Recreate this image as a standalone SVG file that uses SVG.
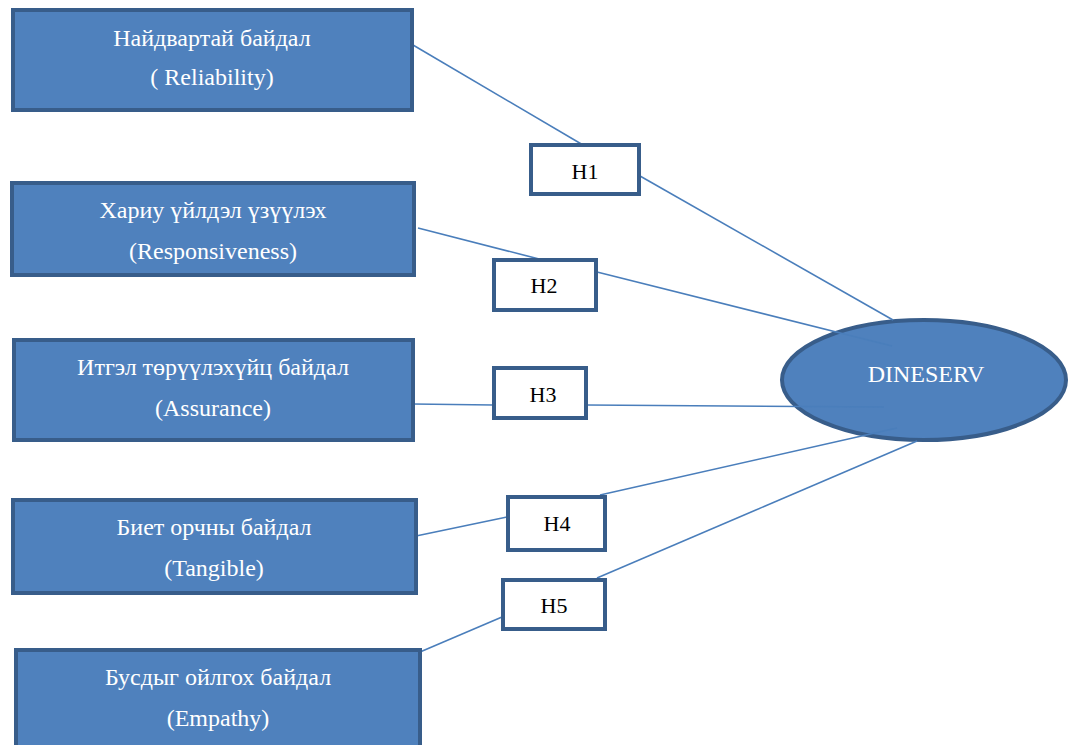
<svg xmlns="http://www.w3.org/2000/svg" width="1068" height="745" viewBox="0 0 1068 745">
<style>
.box{fill:#4F81BD;stroke:#385D8A;stroke-width:4}
.hbox{fill:#FFFFFF;stroke:#385D8A;stroke-width:4}
.wt{font-family:"Liberation Serif","Times New Roman",serif;font-size:24px;fill:#FFFFFF;text-anchor:middle}
.bt{font-family:"Liberation Serif","Times New Roman",serif;font-size:22px;fill:#000000;text-anchor:middle}
.ln{stroke:#4A7EBB;stroke-width:1.6;fill:none}
</style>
<rect width="1068" height="745" fill="#FFFFFF"/>
<g id="dineserv">
<ellipse cx="924" cy="380" rx="142" ry="60" fill="#4F81BD" stroke="#385D8A" stroke-width="4"/>
<text class="wt" x="926" y="382">DINESERV</text>
</g>
<g id="connectors">
<line class="ln" x1="413" y1="45" x2="583" y2="145"/>
<line class="ln" x1="640" y1="176" x2="893" y2="320"/>
<line class="ln" x1="418" y1="228" x2="543" y2="260"/>
<line class="ln" x1="597" y1="272" x2="892" y2="346"/>
<line class="ln" x1="413" y1="404" x2="493" y2="405"/>
<line class="ln" x1="587" y1="405" x2="884" y2="407"/>
<line class="ln" x1="416" y1="536" x2="507" y2="517"/>
<line class="ln" x1="600" y1="495" x2="897" y2="428"/>
<line class="ln" x1="420" y1="652" x2="502" y2="617"/>
<line class="ln" x1="597" y1="578" x2="917" y2="441"/>
</g>
<g id="reliability">
<rect class="box" x="13" y="10" width="399" height="100"/>
<text class="wt" x="212" y="46">Найдвартай байдал</text>
<text class="wt" x="212" y="85">( Reliability)</text>
</g>
<g id="responsiveness">
<rect class="box" x="12" y="183" width="402" height="92"/>
<text class="wt" x="213" y="218">Хариу үйлдэл үзүүлэх</text>
<text class="wt" x="213" y="259">(Responsiveness)</text>
</g>
<g id="assurance">
<rect class="box" x="14" y="340" width="399" height="100"/>
<text class="wt" x="213" y="375">Итгэл төрүүлэхүйц байдал</text>
<text class="wt" x="213" y="416">(Assurance)</text>
</g>
<g id="tangible">
<rect class="box" x="13" y="500" width="403" height="93"/>
<text class="wt" x="214" y="535">Биет орчны байдал</text>
<text class="wt" x="214" y="576">(Tangible)</text>
</g>
<g id="empathy">
<rect class="box" x="16" y="650" width="404" height="98"/>
<text class="wt" x="218" y="685">Бусдыг ойлгох байдал</text>
<text class="wt" x="218" y="726">(Empathy)</text>
</g>
<g id="h1">
<rect class="hbox" x="531" y="145" width="108" height="49"/>
<text class="bt" x="585" y="179">H1</text>
</g>
<g id="h2">
<rect class="hbox" x="494" y="260" width="102" height="50"/>
<text class="bt" x="544" y="293">H2</text>
</g>
<g id="h3">
<rect class="hbox" x="494" y="368" width="92" height="50"/>
<text class="bt" x="543" y="402">H3</text>
</g>
<g id="h4">
<rect class="hbox" x="508" y="497" width="97" height="53"/>
<text class="bt" x="557" y="531">H4</text>
</g>
<g id="h5">
<rect class="hbox" x="503" y="580" width="102" height="49"/>
<text class="bt" x="554" y="613">H5</text>
</g>
</svg>
